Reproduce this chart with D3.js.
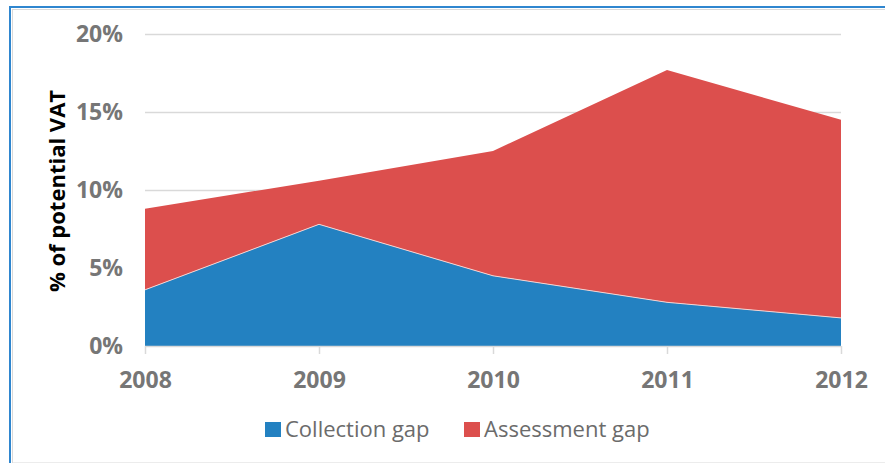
<!DOCTYPE html>
<html>
<head>
<meta charset="utf-8">
<script src="https://cdn.jsdelivr.net/npm/d3@7"></script>
<style>
  html, body { margin: 0; padding: 0; background: #fff; }
  svg { display: block; font-family: "Open Sans", "Noto Sans", sans-serif; }
</style>
</head>
<body>
<svg id="chart" width="885" height="463"></svg>
<script>
// VAT gap components, % of potential VAT
const years = ["2008", "2009", "2010", "2011", "2012"];
const collectionGap = [3.6, 7.8, 4.5, 2.8, 1.8];
const assessmentGap = [5.2, 2.8, 8.0, 14.9, 12.7];
const yTicks = [0, 5, 10, 15, 20];
const seriesNames = ["Collection gap", "Assessment gap"];
const seriesColors = ["#2381c1", "#dc4f4d"];

const svg = d3.select("#chart");
const W = 885, H = 463;

// outer frame
svg.append("line").attr("x1", 10).attr("x2", W).attr("y1", 7).attr("y2", 7)
  .attr("stroke", "#2f86cf").attr("stroke-width", 2);
svg.append("line").attr("x1", 10).attr("x2", 10).attr("y1", 6).attr("y2", H)
  .attr("stroke", "#2f86cf").attr("stroke-width", 2);
svg.append("line").attr("x1", 13).attr("x2", W).attr("y1", 9.5).attr("y2", 9.5)
  .attr("stroke", "#d9d9d9").attr("stroke-width", 1);
svg.append("line").attr("x1", 12.5).attr("x2", 12.5).attr("y1", 9).attr("y2", H)
  .attr("stroke", "#d9d9d9").attr("stroke-width", 1);
svg.append("line").attr("x1", 13).attr("x2", W).attr("y1", 462.5).attr("y2", 462.5)
  .attr("stroke", "#ececec").attr("stroke-width", 1);

const x = d3.scalePoint().domain(years).range([145, 841]);
const y = d3.scaleLinear().domain([0, 20]).range([346, 34]);

// gridlines
svg.append("g").selectAll("line").data(yTicks.filter(d => d > 0)).join("line")
  .attr("x1", 145).attr("x2", 841)
  .attr("y1", d => y(d) + 0.5).attr("y2", d => y(d) + 0.5)
  .attr("stroke", "#d9d9d9").attr("stroke-width", 1.5);

// stacked areas
const rows = years.map((yr, i) => ({ year: yr, c: collectionGap[i], a: assessmentGap[i] }));
const stack = d3.stack().keys(["c", "a"]);
const layers = stack(rows);
const area = d3.area()
  .x(d => x(d.data.year))
  .y0(d => y(d[0]))
  .y1(d => y(d[1]));

svg.append("g").selectAll("path").data(layers).join("path")
  .attr("d", area)
  .attr("fill", (d, i) => seriesColors[i]);

// thin light edge along the top of the collection area
const edge = d3.line().x(d => x(d.data.year)).y(d => y(d[1]));
svg.append("path").attr("d", edge(layers[0]))
  .attr("fill", "none").attr("stroke", "#f2d4d3").attr("stroke-width", 1);

// x axis
const xAxis = d3.axisBottom(x).tickSize(8).tickPadding(18);
const gx = svg.append("g").attr("transform", `translate(0,${y(0)})`).call(xAxis);
gx.select(".domain").attr("stroke", "#d9d9d9").attr("stroke-width", 1.5)
  .attr("d", `M145,0.5H841`);
gx.selectAll(".tick line").attr("stroke", "#d9d9d9").attr("stroke-width", 1.5);
gx.selectAll(".tick text")
  .attr("fill", "#767676").attr("font-size", 23).attr("font-weight", "bold")
  .attr("font-family", "'Open Sans', sans-serif");

// y axis labels
svg.append("g").selectAll("text").data(yTicks).join("text")
  .attr("x", 123).attr("y", d => y(d))
  .attr("dy", "0.36em")
  .attr("text-anchor", "end")
  .attr("fill", "#767676").attr("font-size", 23).attr("font-weight", "bold")
  .text(d => d + "%");

// y axis title
svg.append("text")
  .attr("transform", "translate(65,191) rotate(-90)")
  .attr("text-anchor", "middle")
  .attr("fill", "#000").attr("font-size", 22).attr("font-weight", "bold")
  .text("% of potential VAT");

// legend
const legendX = [265, 464];
const lg = svg.append("g").selectAll("g").data(seriesNames).join("g")
  .attr("transform", (d, i) => `translate(${legendX[i]},422)`);
lg.append("rect").attr("width", 16).attr("height", 15)
  .attr("fill", (d, i) => seriesColors[i]);
lg.append("text").attr("x", 20).attr("y", 15)
  .attr("fill", "#6b6b6b").attr("font-size", 22)
  .text(d => d);
</script>
</body>
</html>
